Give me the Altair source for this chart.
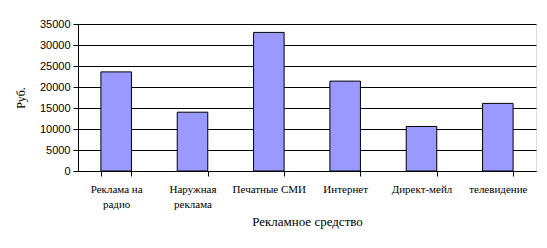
import altair as alt
import pandas as pd

categories = ["Реклама на радио", "Наружная реклама", "Печатные СМИ", "Интернет", "Директ-мейл", "телевидение"]
values = [23600, 14000, 33000, 21400, 10600, 16100]

df = pd.DataFrame({"cat": categories, "val": values})

label_expr = ("datum.value == 'Реклама на радио' ? ['Реклама на', 'радио'] : "
              "datum.value == 'Наружная реклама' ? ['Наружная', 'реклама'] : datum.value")

SERIF = "Times New Roman, Liberation Serif, serif"

chart = alt.Chart(df).mark_bar(color="#9999FF", stroke="black", strokeWidth=1).encode(
    x=alt.X("cat:N", sort=categories, title="Рекламное средство",
            scale=alt.Scale(paddingInner=0.6, paddingOuter=0.3),
            axis=alt.Axis(labelAngle=0, labelExpr=label_expr, tickBand="extent",
                          labelFont=SERIF, labelFontSize=11, labelColor="black",
                          labelPadding=7, labelLineHeight=15,
                          titleFont=SERIF, titleFontSize=13, titleFontWeight="normal",
                          titleColor="black", titlePadding=6,
                          domainColor="black", tickColor="black", tickSize=5, grid=False)),
    y=alt.Y("val:Q", title="Руб.", scale=alt.Scale(domain=[0, 35000]),
            axis=alt.Axis(values=list(range(0, 35001, 5000)), format="d", labelFont="Liberation Sans",
                          labelFontSize=11, labelColor="black", labelPadding=3,
                          titleFont=SERIF, titleFontSize=12, titleFontWeight="normal",
                          titleColor="black", titlePadding=12,
                          domainColor="black", tickColor="black", tickSize=5,
                          grid=True, gridColor="black", gridOpacity=1, gridWidth=1)),
).properties(
    width=458, height=147,
    autosize=alt.AutoSizeParams(type="none"),
    padding={"left": 78, "top": 24, "right": 11, "bottom": 77},
).configure_view(stroke=None).configure(background="white")

chart.save("out.html", embed_options={"renderer": "svg", "actions": False})
